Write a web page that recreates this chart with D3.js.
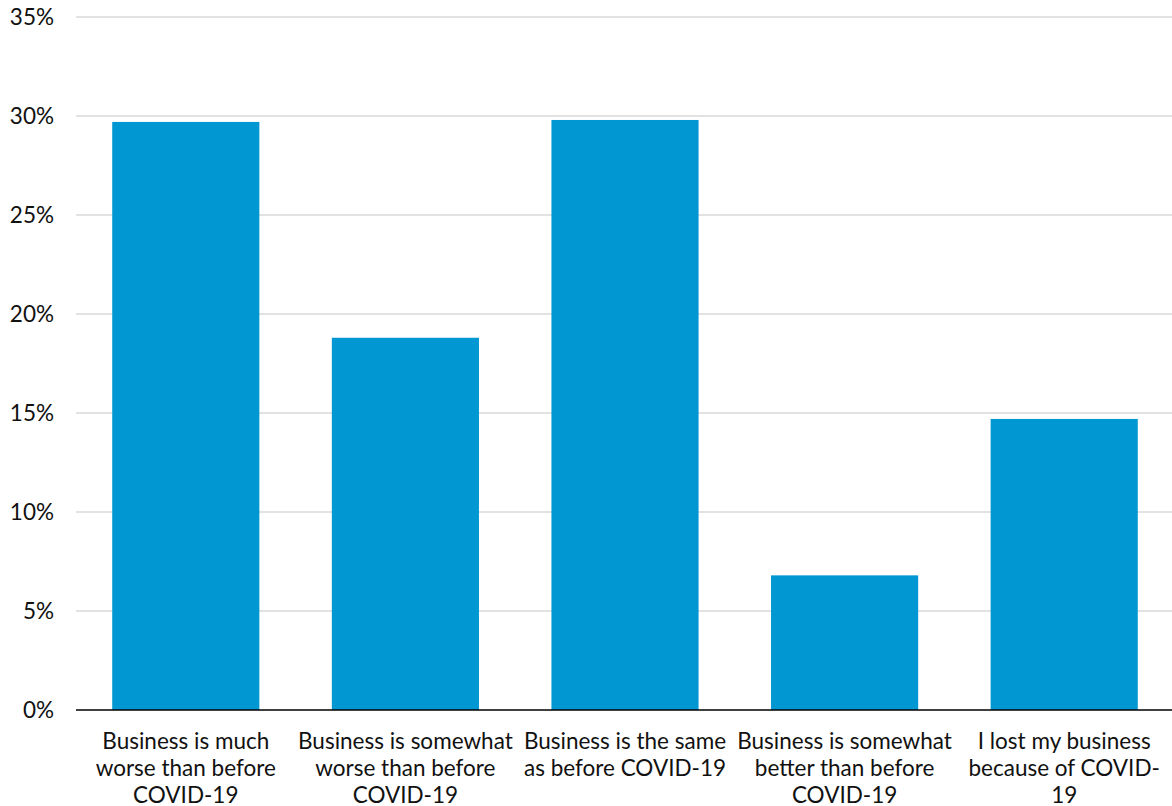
<!DOCTYPE html>
<html>
<head>
<meta charset="utf-8">
<script src="https://cdn.jsdelivr.net/npm/d3@7"></script>
<style>
  html, body { margin: 0; padding: 0; background: #fff; }
  svg { display: block; font-family: Lato, "Open Sans", sans-serif; }
</style>
</head>
<body>
<svg id="chart" width="1172" height="806"></svg>
<script>
// Survey responses: impact of COVID-19 on business
const categories = [
  "Business is much worse than before COVID-19",
  "Business is somewhat worse than before COVID-19",
  "Business is the same as before COVID-19",
  "Business is somewhat better than before COVID-19",
  "I lost my business because of COVID-19"
];
// Category labels as broken across lines under each bar
const categoryLines = [
  ["Business is much", "worse than before", "COVID-19"],
  ["Business is somewhat", "worse than before", "COVID-19"],
  ["Business is the same", "as before COVID-19"],
  ["Business is somewhat", "better than before", "COVID-19"],
  ["I lost my business", "because of COVID-", "19"]
];
const shares = [29.7, 18.8, 29.8, 6.8, 14.7];
const yTicks = [0, 5, 10, 15, 20, 25, 30, 35];

const svg = d3.select("#chart");
const margin = { top: 17, right: 0, bottom: 96, left: 76 };
const width = 1172, height = 806;
const fontSize = 22.5;

const x = d3.scaleBand()
  .domain(categories)
  .range([margin.left, width + 2])
  .paddingInner(0.33)
  .paddingOuter(0.165);

const y = d3.scaleLinear()
  .domain([0, 35])
  .range([height - margin.bottom, margin.top]);

// Gridlines
svg.append("g")
  .selectAll("line")
  .data(yTicks.filter(d => d > 0))
  .join("line")
  .attr("x1", margin.left)
  .attr("x2", width - margin.right)
  .attr("y1", d => y(d))
  .attr("y2", d => y(d))
  .attr("stroke", "#d9d9d9")
  .attr("stroke-width", 1.5);

// Y axis labels
const yAxis = d3.axisLeft(y)
  .tickValues(yTicks)
  .tickFormat(d => d + "%")
  .tickSize(0)
  .tickPadding(22);
svg.append("g")
  .attr("transform", `translate(${margin.left},0)`)
  .call(yAxis)
  .call(g => g.select(".domain").remove())
  .call(g => g.selectAll("text")
    .attr("font-family", "Lato, sans-serif")
    .attr("font-size", fontSize)
    .attr("fill", "#111"));

// Bars
svg.append("g")
  .selectAll("rect")
  .data(shares)
  .join("rect")
  .attr("x", (d, i) => x(categories[i]))
  .attr("width", x.bandwidth())
  .attr("y", d => y(d))
  .attr("height", d => y(0) - y(d))
  .attr("fill", "#0097d2");

// Baseline
svg.append("line")
  .attr("x1", margin.left)
  .attr("x2", width - margin.right)
  .attr("y1", y(0))
  .attr("y2", y(0))
  .attr("stroke", "#000")
  .attr("stroke-width", 1.5);

// Category labels
const labels = svg.append("g")
  .attr("font-family", "Lato, sans-serif")
  .attr("font-size", fontSize)
  .attr("fill", "#111")
  .attr("text-anchor", "middle");
categories.forEach((c, i) => {
  const cx = x(c) + x.bandwidth() / 2;
  const t = labels.append("text")
    .attr("x", cx)
    .attr("y", y(0) + 39);
  categoryLines[i].forEach((line, j) => {
    t.append("tspan")
      .attr("x", cx)
      .attr("dy", j === 0 ? 0 : 27)
      .text(line);
  });
});
</script>
</body>
</html>
